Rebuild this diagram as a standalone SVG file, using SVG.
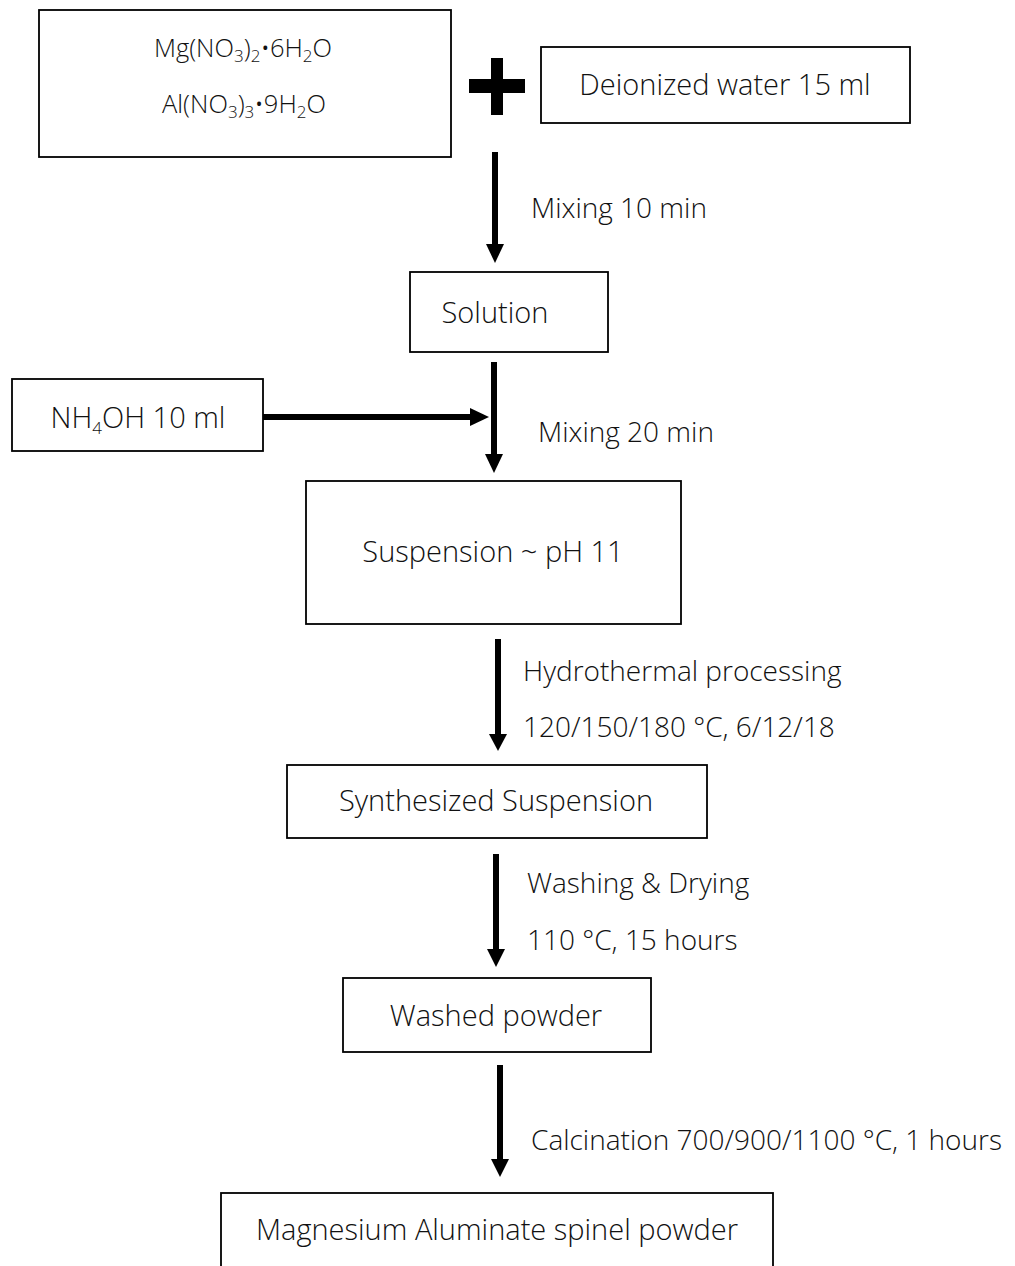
<svg xmlns="http://www.w3.org/2000/svg" width="1015" height="1266" viewBox="0 0 1015 1266">
<style>
.box{fill:#fff;stroke:#000;stroke-width:1.8}
.t{font-family:"Open Sans","Noto Sans",sans-serif;font-weight:300;font-size:29px;fill:#111}
.l{font-size:28px}
.f{font-size:25.5px}
.s{font-size:17px}
.c{text-anchor:middle}
.ln{stroke:#000;stroke-width:6;fill:none}
.ah{fill:#000}
</style>
<rect width="1015" height="1266" fill="#fff"/>
<g id="reagents">
<rect class="box" x="39" y="10" width="412" height="147"/>
<text class="t f c" x="243" y="57">Mg(NO<tspan class="s" dy="5">3</tspan><tspan dy="-5">)</tspan><tspan class="s" dy="5">2</tspan><tspan dy="-5">•6H</tspan><tspan class="s" dy="5">2</tspan><tspan dy="-5">O</tspan></text>
<text class="t f c" x="244" y="113">Al(NO<tspan class="s" dy="5">3</tspan><tspan dy="-5">)</tspan><tspan class="s" dy="5">3</tspan><tspan dy="-5">•9H</tspan><tspan class="s" dy="5">2</tspan><tspan dy="-5">O</tspan></text>
</g>
<g id="plus">
<rect x="469" y="79" width="56" height="14" fill="#000"/>
<rect x="491" y="58" width="12" height="57" fill="#000"/>
</g>
<g id="water">
<rect class="box" x="541" y="47" width="369" height="76"/>
<text class="t c" x="725" y="95">Deionized water 15 ml</text>
</g>
<g id="solution">
<rect class="box" x="410" y="272" width="198" height="80"/>
<text class="t c" x="495" y="323">Solution</text>
</g>
<g id="nh4oh">
<rect class="box" x="12" y="379" width="251" height="72"/>
<text class="t c" x="138" y="428">NH<tspan class="s" dy="6">4</tspan><tspan dy="-6">OH 10 ml</tspan></text>
</g>
<g id="suspension">
<rect class="box" x="306" y="481" width="375" height="143"/>
<text class="t c" x="493" y="562">Suspension ~ pH 11</text>
</g>
<g id="synthesized">
<rect class="box" x="287" y="765" width="420" height="73"/>
<text class="t c" x="496" y="811">Synthesized Suspension</text>
</g>
<g id="washed">
<rect class="box" x="343" y="978" width="308" height="74"/>
<text class="t c" x="496" y="1026">Washed powder</text>
</g>
<g id="spinel">
<rect class="box" x="221" y="1193" width="552" height="90"/>
<text class="t c" x="497" y="1240">Magnesium Aluminate spinel powder</text>
</g>
<g id="connectors">
<line class="ln" x1="495" y1="152" x2="495" y2="246"/>
<polygon class="ah" points="486,244 504,244 495,263"/>
<line class="ln" x1="494" y1="362" x2="494" y2="456"/>
<polygon class="ah" points="485,454 503,454 494,473"/>
<line class="ln" x1="263" y1="417" x2="472" y2="417"/>
<polygon class="ah" points="470,408 470,426 489,417"/>
<line class="ln" x1="498" y1="639" x2="498" y2="736"/>
<polygon class="ah" points="489,734 507,734 498,751"/>
<line class="ln" x1="496" y1="854" x2="496" y2="951"/>
<polygon class="ah" points="487,949 505,949 496,967"/>
<line class="ln" x1="500" y1="1065" x2="500" y2="1161"/>
<polygon class="ah" points="491,1159 509,1159 500,1177"/>
</g>
<g id="labels">
<text class="t l" x="531" y="218">Mixing 10 min</text>
<text class="t l" x="538" y="442">Mixing 20 min</text>
<text class="t l" x="523" y="681">Hydrothermal processing</text>
<text class="t l" x="523" y="737">120/150/180 °C, 6/12/18</text>
<text class="t l" x="527" y="893">Washing &amp; Drying</text>
<text class="t l" x="527" y="950">110 °C, 15 hours</text>
<text class="t l" x="531" y="1150">Calcination 700/900/1100 °C, 1 hours</text>
</g>
</svg>
